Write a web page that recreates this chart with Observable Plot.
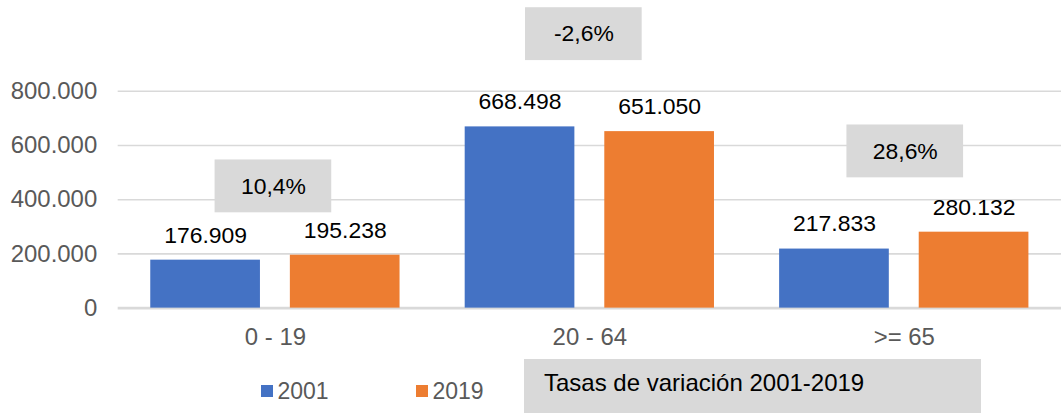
<!DOCTYPE html>
<html><head><meta charset="utf-8">
<script src="https://cdn.jsdelivr.net/npm/d3@7"></script>
<script src="https://cdn.jsdelivr.net/npm/@observablehq/plot@0.6"></script>
<style>
html,body{margin:0;padding:0;overflow:hidden;background:#fff;}
#wrap{position:relative;width:1061px;height:413px;overflow:hidden;font-family:"Liberation Sans",Arial,sans-serif;}
#chart svg{display:block;}
#legend{position:absolute;left:0;top:356px;}
</style></head>
<body><div id="wrap"><div id="chart"></div><div id="legend"></div></div>
<script>
// ---- data ----
const groups = ["0 - 19", "20 - 64", ">= 65"];
const years = ["2001", "2019"];
const values2001 = [176909, 668498, 217833];
const values2019 = [195238, 651050, 280132];
const yTicks = [0, 200000, 400000, 600000, 800000];
const rateLegend = "Tasas de variación 2001-2019";
const colors = ["#4472C4", "#ED7D31"];

// ---- layout ----
const W = 1064, H = 356, mL = 118, mT = 91, mB = 47.5;
const plotH = H - mT - mB;
const yMax = 800000;
const pxPerUnit = plotH / yMax;
const band = (W - mL) / groups.length;
const barW = 110, barGap = 30;
const side = (band - 2 * barW - barGap) / 2;
const barInsets = [
  {l: side, r: band - side - barW},
  {l: side + barW + barGap, r: side}
];
const labelDx = [side + barW / 2 - band / 2, band / 2 - side - barW / 2];
const boxLift = [69, 93, 81];   // px above the taller bar
const boxShift = [-2, -6, 1];
const boxW = 117, boxH = 53;

const es = d3.formatLocale({decimal: ",", thousands: ".", grouping: [3], currency: ["", " €"], minus: "-"});
const fmtInt = es.format(",.0f");
const fmtPct = es.format(".1%");

const rows = groups.map((g, i) => ({
  group: g, v2001: values2001[i], v2019: values2019[i],
  rate: values2019[i] / values2001[i] - 1
}));
const fields = ["v2001", "v2019"];

const marks = [
  Plot.ruleY(yTicks.filter(t => t > 0), {stroke: "#d9d9d9", strokeWidth: 1.6}),
  Plot.ruleY([0], {stroke: "#d9d9d9", strokeWidth: 2.6})
];
fields.forEach((f, s) => {
  marks.push(Plot.barY(rows, {x: "group", y: f, fill: colors[s], insetLeft: barInsets[s].l, insetRight: barInsets[s].r}));
  marks.push(Plot.text(rows, {x: "group", y: f, text: d => fmtInt(d[f]), dx: labelDx[s], dy: -25, fontSize: 23, fill: "#000"}));
});
rows.forEach((d, i) => {
  const cv = Math.max(d.v2001, d.v2019) + boxLift[i] / pxPerUnit;
  const half = boxH / 2 / pxPerUnit;
  const inset = (band - boxW) / 2;
  marks.push(Plot.barY([d], {x: "group", y1: cv - half, y2: cv + half, fill: "#d9d9d9",
    insetLeft: inset + boxShift[i], insetRight: inset - boxShift[i]}));
  marks.push(Plot.text([d], {x: "group", y: () => cv, text: r => fmtPct(r.rate), dx: boxShift[i], fontSize: 23, fill: "#000"}));
});

const chart = Plot.plot({
  width: W, height: H,
  marginLeft: mL, marginRight: 0, marginTop: mT, marginBottom: mB,
  style: {fontFamily: "Liberation Sans, Arial, sans-serif", fontSize: "24px", color: "#595959", background: "#fff", overflow: "visible"},
  x: {domain: groups, padding: 0, round: false, axis: "bottom", tickSize: 0, tickPadding: 19.5, label: null},
  y: {domain: [0, yMax], ticks: 4, tickFormat: fmtInt, tickSize: 0, tickPadding: 21, label: null},
  marks
});
document.getElementById("chart").appendChild(chart);

// ---- legend ----
const lg = d3.select("#legend").append("svg").attr("width", 1061).attr("height", 57)
  .style("font-family", "Liberation Sans, Arial, sans-serif").style("display", "block");
const legendX = [261, 416];
years.forEach((y, i) => {
  lg.append("rect").attr("x", legendX[i]).attr("y", 29).attr("width", 12).attr("height", 12).attr("fill", colors[i]);
  lg.append("text").attr("x", legendX[i] + 16.5).attr("y", 43).attr("font-size", 23).attr("fill", "#595959").text(y);
});
lg.append("rect").attr("x", 524).attr("y", 3).attr("width", 457).attr("height", 60).attr("fill", "#d9d9d9");
lg.append("text").attr("x", 544).attr("y", 35).attr("font-size", 24).attr("fill", "#000").text(rateLegend);
</script>
</body></html>
